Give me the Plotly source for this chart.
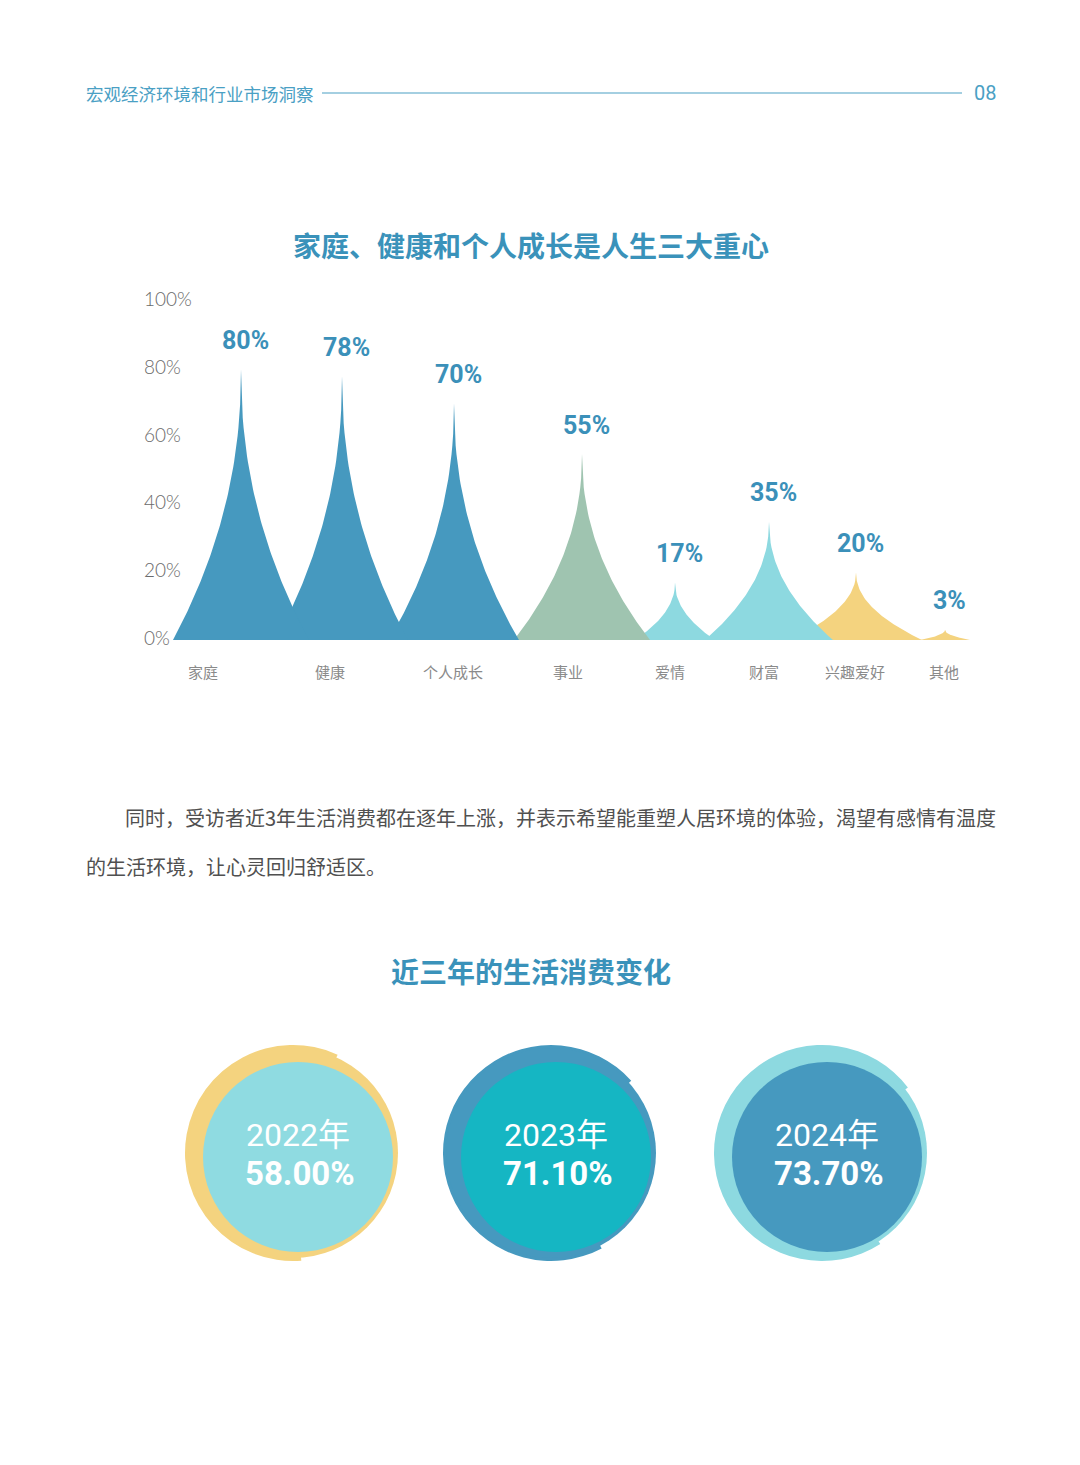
import numpy as np
import plotly.graph_objects as go

W, H = 1080, 1465

# ---------------- data ----------------
header_text = "宏观经济环境和行业市场洞察"
page_no = "08"
chart1_title = "家庭、健康和个人成长是人生三大重心"
categories = ["家庭", "健康", "个人成长", "事业", "爱情", "财富", "兴趣爱好", "其他"]
values = [80, 78, 70, 55, 17, 35, 20, 3]
y_ticks = [0, 20, 40, 60, 80, 100]
paragraph_lines = [
    "同时，受访者近3年生活消费都在逐年上涨，并表示希望能重塑人居环境的体验，渴望有感情有温度",
    "的生活环境，让心灵回归舒适区。",
]
chart2_title = "近三年的生活消费变化"
years = ["2022年", "2023年", "2024年"]
growth = [58.00, 71.10, 73.70]

# ---------------- layout / style ----------------
cat_x = [203, 330, 453, 568, 670, 764, 855, 944]      # category label slots (x units)
peak_x = [241, 342, 454, 582, 675, 769, 856, 945]     # spike centre slots (x units)
half_w = [68, 66, 65, 68, 40, 64, 66, 25]             # spike half widths (x units)
BLUE = "#4699bf"
GREEN = "#9fc4b0"
CYAN = "#8dd9e0"
YELLOW = "#f4d37f"
TEAL = "#15b6c3"
spike_colors = [BLUE, BLUE, BLUE, GREEN, CYAN, CYAN, YELLOW, YELLOW]
TITLE_C = "#3a92ba"
LABEL_C = "#3b90b9"
HEAD_C = "#4aa0c4"

ring_colors = [YELLOW, BLUE, CYAN]
inner_colors = ["#8fdbe1", TEAL, BLUE]
circle_cx = [293, 551, 822]
circle_cy = 1153
R_THICK, R_THIN, R_IN = 108, 105, 95
IN_DX, IN_DY = 5, 4
GAP_CENTER = 100

CJK = "Noto Sans CJK SC"


def px(x):
    return x / W


def py(y):
    return 1 - y / H


def note(x, y, text, font, xanchor="center", yanchor="middle", **kw):
    fig.add_annotation(x=x, y=y, text=text, showarrow=False, xanchor=xanchor,
                       yanchor=yanchor, font=font, **kw)


fig = go.Figure()

# ---------------- spike chart ----------------
t = np.linspace(0, 1, 80)
s = 1 - t ** 0.47
order = list(range(len(values)))[::-1]
for i in order:
    xc, w, h = peak_x[i], half_w[i], values[i]
    xs = np.concatenate([xc - w * t[::-1], xc + w * t[1:]])
    ys = h * np.concatenate([s[::-1], s[1:]])
    fig.add_trace(go.Scatter(
        x=xs, y=ys, mode="lines", fill="toself",
        fillcolor=spike_colors[i], line=dict(width=0, color=spike_colors[i]),
        hoverinfo="skip", showlegend=False, xaxis="x", yaxis="y"))

for i, v in enumerate(values):
    note(peak_x[i], v, f"{v}%", dict(family="Roboto", size=25, color=LABEL_C, weight="bold"),
         xref="x", yref="y", yshift=29, xshift=4)

for v in y_ticks:
    note(px(142), v, f"{v}%", dict(family="Lato", size=19, color="#6a6a6a", weight=300),
         xanchor="left", xref="paper", yref="y", yshift=3)

fig.update_layout(
    xaxis=dict(domain=[0, 1], range=[0, W], showgrid=False, zeroline=False,
               showline=False, tickvals=cat_x, ticktext=categories, ticks="",
               ticklabelstandoff=22,
               tickfont=dict(family=CJK, size=15, color="#8a8a8a"), fixedrange=True),
    yaxis=dict(domain=[py(640), py(302)], range=[0, 100], showgrid=False,
               zeroline=False, showline=False, showticklabels=False, fixedrange=True),
)

# ---------------- rings ----------------
def dom(cx, cy, r):
    return dict(x=[px(cx - r), px(cx + r)], y=[py(cy + r), py(cy - r)])

for k, g in enumerate(growth):
    cx = circle_cx[k]
    gap = (1 - g / 100) * 360
    fig.add_trace(go.Pie(
        values=[g, 100 - g], sort=False, direction="clockwise",
        rotation=GAP_CENTER + gap / 2, textinfo="none", hoverinfo="skip",
        marker=dict(colors=[ring_colors[k], "rgba(0,0,0,0)"], line=dict(width=0)),
        domain=dom(cx, circle_cy, R_THICK), showlegend=False))
    fig.add_trace(go.Pie(
        values=[1], textinfo="none", hoverinfo="skip",
        marker=dict(colors=[ring_colors[k]], line=dict(width=0)),
        domain=dom(cx, circle_cy, R_THIN), showlegend=False))
    fig.add_trace(go.Pie(
        values=[1], textinfo="none", hoverinfo="skip",
        marker=dict(colors=[inner_colors[k]], line=dict(width=0)),
        domain=dom(cx + IN_DX, circle_cy + IN_DY, R_IN), showlegend=False))
    note(px(cx + IN_DX), py(1135), years[k],
         dict(family="Roboto, " + CJK, size=32, color="white"), xref="paper", yref="paper")
    note(px(cx + IN_DX + 2), py(1173), f"{g:.2f}%",
         dict(family="Roboto", size=33, color="white", weight="bold"), xref="paper", yref="paper")

# ---------------- header & texts ----------------
note(px(84), py(93), header_text, dict(family=CJK, size=17.5, color=HEAD_C),
     xanchor="left", xref="paper", yref="paper")
note(px(998), py(93), page_no, dict(family="Roboto", size=20, color=HEAD_C),
     xanchor="right", xref="paper", yref="paper")
fig.add_shape(type="line", xref="paper", yref="paper", x0=px(322), x1=px(962),
              y0=py(93), y1=py(93), line=dict(color=HEAD_C, width=1.2))

note(px(531), py(245), chart1_title, dict(family=CJK, size=28, color=TITLE_C, weight="bold"),
     xref="paper", yref="paper")
note(px(531), py(971), chart2_title, dict(family=CJK, size=28, color=TITLE_C, weight="bold"),
     xref="paper", yref="paper")

para_x = [123, 84]
para_y = [817, 866]
for j, line in enumerate(paragraph_lines):
    note(px(para_x[j]), py(para_y[j]), line, dict(family=CJK, size=20, color="#505050"),
         xanchor="left", xref="paper", yref="paper")

fig.update_layout(
    width=W, height=H, margin=dict(l=0, r=0, t=0, b=0),
    paper_bgcolor="white", plot_bgcolor="white", showlegend=False,
)

fig.write_html("out.html", config={"displayModeBar": False, "staticPlot": True},
               post_script="document.body.style.margin='0px';document.body.style.overflow='hidden';")
